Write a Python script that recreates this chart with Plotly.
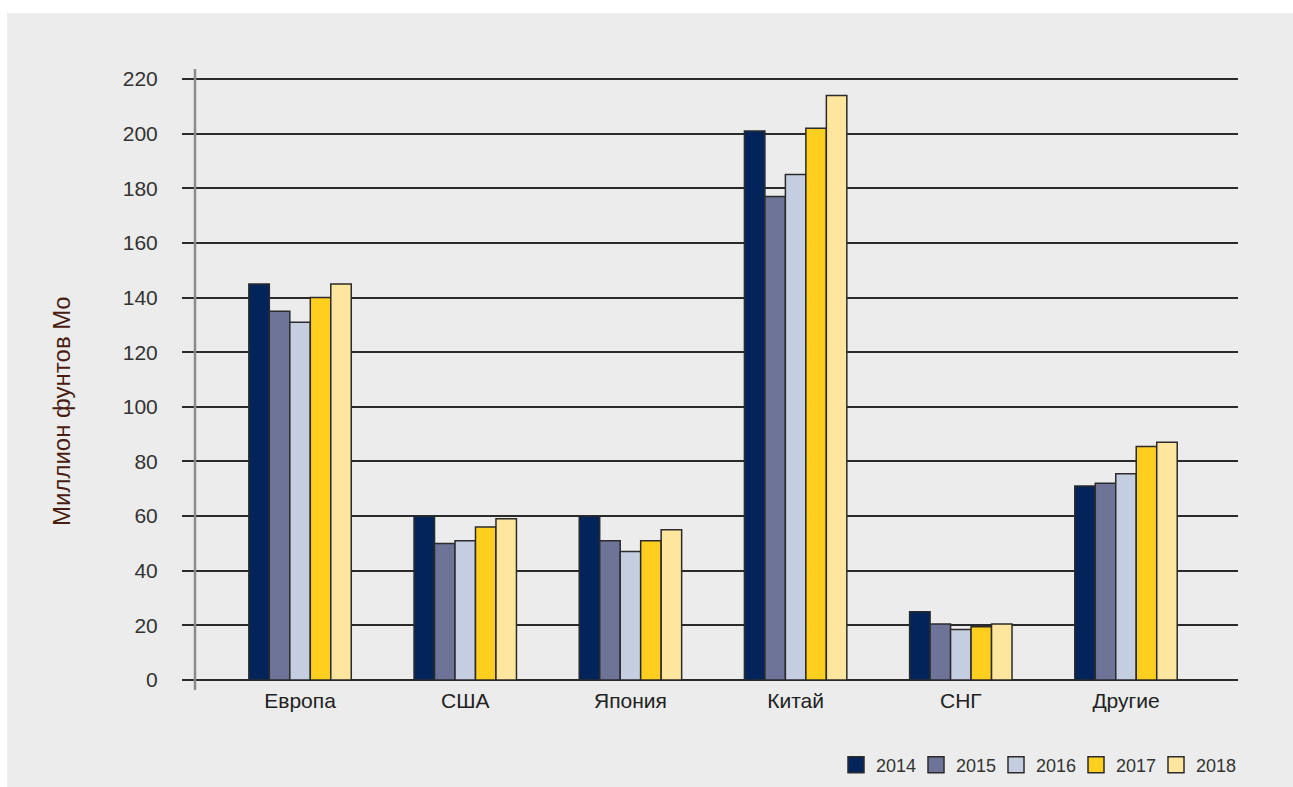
import plotly.graph_objects as go

# Molybdenum consumption by region, million pounds
regions = ["Европа", "США", "Япония", "Китай", "СНГ", "Другие"]
years = ["2014", "2015", "2016", "2017", "2018"]
v2014 = [145, 60, 60, 201, 25, 71]
v2015 = [135, 50, 51, 177, 20.5, 72]
v2016 = [131, 51, 47, 185, 18.5, 75.5]
v2017 = [140, 56, 51, 202, 19.5, 85.5]
v2018 = [145, 59, 55, 214, 20.5, 87]
series = [v2014, v2015, v2016, v2017, v2018]
colors = ["#03245a", "#6d7498", "#c5cee0", "#ffce1f", "#ffe69e"]

y_ticks = list(range(0, 221, 20))

BG = "#ebeceb"
EDGE = "#2b2b2b"

fig = go.Figure()
for name, vals, col in zip(years, series, colors):
    fig.add_trace(go.Bar(
        x=regions, y=vals, name=name, showlegend=False,
        marker=dict(color=col, line=dict(color=EDGE, width=1.5)),
    ))
# legend keys: larger square swatches than the default bar key
for name, col in zip(years, colors):
    fig.add_trace(go.Scatter(
        x=[None], y=[None], name=name, mode="markers",
        marker=dict(symbol="square", size=16, color=col,
                    line=dict(color=EDGE, width=1.5)),
    ))

# plot area: x 195..1238, y 77..680 in a 1293x787 page
L, R, T, B = 195, 1293 - 1238, 77, 787 - 680
W, H = 1293 - L - R, 787 - T - B
y_top = 220 * H / 601  # headroom so the 220 gridline is drawn

def px(p):
    return (p - L) / W

def py(p):
    return (787 - B - p) / H

fig.update_layout(
    width=1293, height=787,
    margin=dict(l=L, r=R, t=T, b=B, pad=0, autoexpand=False),
    paper_bgcolor=BG, plot_bgcolor=BG,
    barmode="group", bargap=0.38, bargroupgap=0,
    font=dict(family="Liberation Sans, Arial, sans-serif", color="#333333"),
    showlegend=True,
    legend=dict(
        orientation="h", x=px(836), xanchor="left", y=py(765), yanchor="middle",
        font=dict(size=18, color="#333333"), bgcolor="rgba(0,0,0,0)",
        entrywidth=35, entrywidthmode="pixels", traceorder="normal",
        itemwidth=30,
    ),
    xaxis=dict(
        range=[-0.636, 5.678], showgrid=False, zeroline=False, showline=False,
        ticks="", tickfont=dict(size=21, color="#222222"), ticklabelstandoff=6,
        fixedrange=True,
    ),
    yaxis=dict(
        range=[0, y_top], tickvals=y_ticks, ticktext=[str(t) for t in y_ticks],
        showgrid=True, gridcolor="#2a2a2a", gridwidth=1.5,
        zeroline=True, zerolinecolor="#2a2a2a", zerolinewidth=1.5,
        ticks="outside", ticklen=12, tickcolor="#2a2a2a", tickwidth=1.5,
        showline=False,
        tickfont=dict(size=21, color="#333333"), ticklabelstandoff=20,
        fixedrange=True,
    ),
    shapes=[
        # white frame strips around the grey panel
        dict(type="rect", xref="paper", yref="paper", x0=px(-10), x1=px(7),
             y0=py(800), y1=py(-10), fillcolor="white", line=dict(width=0), layer="below"),
        dict(type="rect", xref="paper", yref="paper", x0=px(-10), x1=px(1300),
             y0=py(13), y1=py(-10), fillcolor="white", line=dict(width=0), layer="below"),
        # vertical axis line, extending a little below zero
        dict(type="line", xref="paper", yref="paper", x0=0, x1=0,
             y0=py(690), y1=py(69), line=dict(color="#8a8a8a", width=2.5), layer="above"),
    ],
    annotations=[
        dict(text="Миллион фунтов Mo", xref="paper", yref="paper",
             x=px(62), y=py(411), xanchor="center", yanchor="middle",
             textangle=-90, showarrow=False,
             font=dict(size=24, color="#4a1c10")),
    ],
)

fig.write_html("out.html")
